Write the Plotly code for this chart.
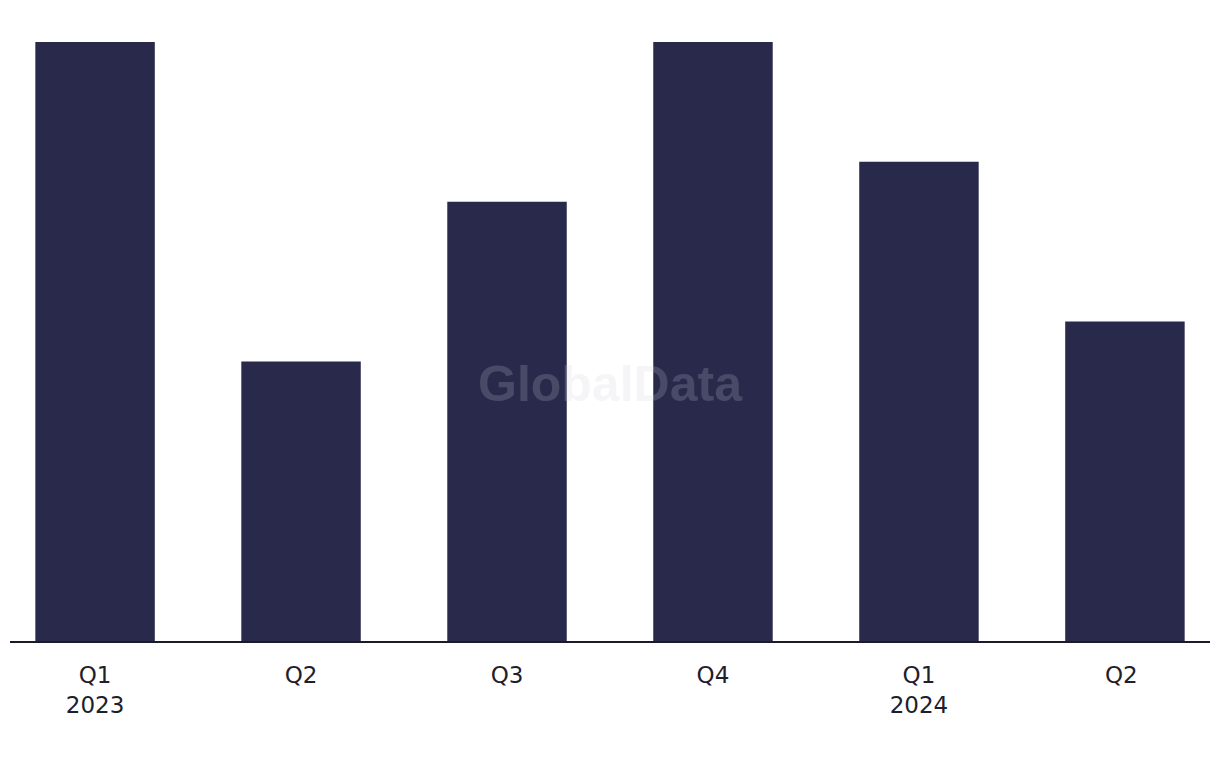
import plotly.graph_objects as go

categories = ["Q1<br>2023", "Q2", "Q3", "Q4", "Q1<br>2024", "Q2 "]
values = [15, 7, 11, 15, 12, 8]

fig = go.Figure()
fig.add_trace(go.Bar(
    x=list(range(len(categories))),
    y=values,
    marker=dict(color="#29294b", line=dict(width=0)),
    width=0.58,
    hoverinfo="skip",
))

fig.update_layout(
    width=1220, height=768,
    margin=dict(l=2, r=18, t=34, b=135),
    paper_bgcolor="white", plot_bgcolor="white",
    showlegend=False,
    font=dict(family="DejaVu Sans, Arial, sans-serif", size=23, color="#1e1e2c"),
    xaxis=dict(
        tickmode="array", tickvals=list(range(len(categories))), ticktext=categories,
        range=[-0.413, 5.413],
        showline=True, linecolor="#1a1a2a", linewidth=2,
        showgrid=False, zeroline=False, ticks="", ticklabelstandoff=12,
    ),
    yaxis=dict(range=[0, 15], visible=False, showgrid=False, zeroline=False),
    annotations=[dict(
        text="<b>GlobalData</b>", x=0.5, y=0.5, xref="paper", yref="paper",
        xanchor="center", yanchor="middle", yshift=-42, showarrow=False,
        font=dict(family="Liberation Sans, Arial, sans-serif", size=50, color="rgba(206,206,218,0.2)"),
    )],
)

fig.write_html("out.html")
